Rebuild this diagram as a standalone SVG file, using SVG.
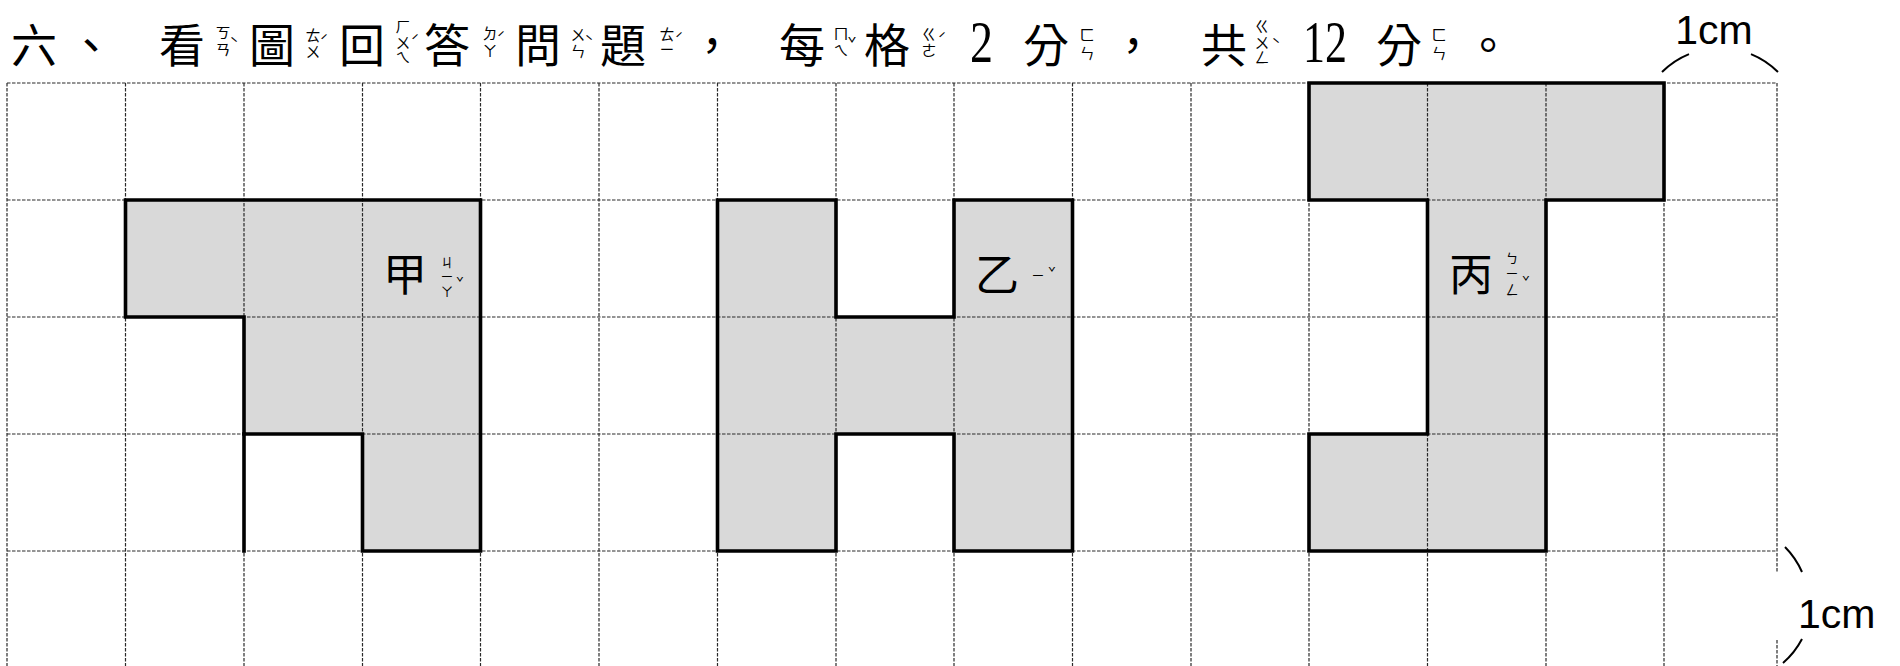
<svg xmlns="http://www.w3.org/2000/svg" width="1900" height="666" viewBox="0 0 1900 666">
<style>
.bg{fill:#ffffff}
.grid line{stroke:#2a2a2a;stroke-width:1.2;stroke-dasharray:3.5 1.5;fill:none}
.fill{fill:#d9d9d9;stroke:none}
.out{fill:none;stroke:#000;stroke-width:3.6;stroke-linejoin:miter;stroke-linecap:square}
.arc{fill:none;stroke:#000;stroke-width:2}
.cjk{font-family:"Noto Sans CJK TC","Noto Sans CJK SC",sans-serif;fill:#000}
.t{font-size:46px;text-anchor:middle}
.lb{font-size:44px;text-anchor:middle}
.bp{font-size:15px;text-anchor:middle;dominant-baseline:central}
.bs{font-size:13px;text-anchor:middle;dominant-baseline:central}
.num{font-family:"Liberation Serif",serif;font-size:60px;fill:#000}
.cm{font-family:"Liberation Sans",Arial,sans-serif;font-size:41px;fill:#000}
</style>
<rect class="bg" x="0" y="0" width="1900" height="666"/>

<g id="shape-jia-fill">
<path class="fill" d="M125.5,200 H480.5 V551 H362.5 V434 H244 V317 H125.5 Z"/>
</g>
<g id="shape-yi-fill">
<path class="fill" d="M717.5,200 H836 V317 H954 V200 H1072.5 V551 H954 V434 H836 V551 H717.5 Z"/>
</g>
<g id="shape-bing-fill">
<path class="fill" d="M1309,83 H1664 V200 H1546 V551 H1309 V434 H1427.5 V200 H1309 Z"/>
</g>

<g id="grid" class="grid">
<line x1="7" y1="83" x2="7" y2="666"/>
<line x1="125.5" y1="83" x2="125.5" y2="666"/>
<line x1="244" y1="83" x2="244" y2="666"/>
<line x1="362.5" y1="83" x2="362.5" y2="666"/>
<line x1="480.5" y1="83" x2="480.5" y2="666"/>
<line x1="599" y1="83" x2="599" y2="666"/>
<line x1="717.5" y1="83" x2="717.5" y2="666"/>
<line x1="836" y1="83" x2="836" y2="666"/>
<line x1="954" y1="83" x2="954" y2="666"/>
<line x1="1072.5" y1="83" x2="1072.5" y2="666"/>
<line x1="1191" y1="83" x2="1191" y2="666"/>
<line x1="1309" y1="83" x2="1309" y2="666"/>
<line x1="1427.5" y1="83" x2="1427.5" y2="666"/>
<line x1="1546" y1="83" x2="1546" y2="666"/>
<line x1="1664" y1="83" x2="1664" y2="666"/>
<line x1="1777" y1="83" x2="1777" y2="572"/>
<line x1="1777" y1="640" x2="1777" y2="666"/>
<line x1="7" y1="83" x2="1777" y2="83"/>
<line x1="7" y1="200" x2="1777" y2="200"/>
<line x1="7" y1="317" x2="1777" y2="317"/>
<line x1="7" y1="434" x2="1777" y2="434"/>
<line x1="7" y1="551" x2="1777" y2="551"/>
</g>

<g id="jia">
<path class="out" d="M125.5,200 H480.5 V551 H362.5 V434 H244 V317 H125.5 Z"/>
<line class="out" x1="244" y1="434" x2="244" y2="551"/>
<text class="cjk lb" x="405" y="291">甲</text>
<text class="cjk bs"><tspan x="447" y="261">ㄐ</tspan><tspan x="447" y="275">ㄧ</tspan><tspan x="447" y="290">ㄚ</tspan><tspan x="460" y="281">ˇ</tspan></text>
</g>

<g id="yi">
<path class="out" d="M717.5,200 H836 V317 H954 V200 H1072.5 V551 H954 V434 H836 V551 H717.5 Z"/>
<text class="cjk lb" x="997" y="291">乙</text>
<text class="cjk bs"><tspan x="1038" y="274">ㄧ</tspan><tspan x="1052" y="271">ˇ</tspan></text>
</g>

<g id="bing">
<path class="out" d="M1309,83 H1664 V200 H1546 V551 H1309 V434 H1427.5 V200 H1309 Z"/>
<text class="cjk lb" x="1471" y="291">丙</text>
<text class="cjk bs"><tspan x="1512" y="257">ㄅ</tspan><tspan x="1512" y="272">ㄧ</tspan><tspan x="1512" y="288">ㄥ</tspan><tspan x="1526" y="280">ˇ</tspan></text>
</g>

<g id="title">
<text class="cjk t" x="34" y="62">六</text>
<text class="cjk t" x="91" y="62">、</text>
<text class="cjk t" x="182" y="62">看</text>
<text class="cjk bp"><tspan x="223" y="31">ㄎ</tspan><tspan x="223" y="48">ㄢ</tspan><tspan x="234" y="42">ˋ</tspan></text>
<text class="cjk t" x="272" y="62">圖</text>
<text class="cjk bp"><tspan x="313" y="34">ㄊ</tspan><tspan x="313" y="50">ㄨ</tspan><tspan x="324" y="40">ˊ</tspan></text>
<text class="cjk t" x="362" y="62">回</text>
<text class="cjk bp"><tspan x="403" y="25">ㄏ</tspan><tspan x="403" y="40.5">ㄨ</tspan><tspan x="403" y="56">ㄟ</tspan><tspan x="415" y="40">ˊ</tspan></text>
<text class="cjk t" x="447" y="62">答</text>
<text class="cjk bp"><tspan x="490" y="32">ㄉ</tspan><tspan x="490" y="48.5">ㄚ</tspan><tspan x="501" y="37">ˊ</tspan></text>
<text class="cjk t" x="538" y="62">問</text>
<text class="cjk bp"><tspan x="578" y="32.5">ㄨ</tspan><tspan x="578" y="50">ㄣ</tspan><tspan x="589" y="40">ˋ</tspan></text>
<text class="cjk t" x="623" y="62">題</text>
<text class="cjk bp"><tspan x="667" y="33">ㄊ</tspan><tspan x="667" y="48">ㄧ</tspan><tspan x="679" y="38">ˊ</tspan></text>
<text class="cjk t" x="712" y="62">，</text>
<text class="cjk t" x="802" y="62">每</text>
<text class="cjk bp"><tspan x="841" y="32">ㄇ</tspan><tspan x="841" y="48.5">ㄟ</tspan><tspan x="852" y="42">ˇ</tspan></text>
<text class="cjk t" x="887" y="62">格</text>
<text class="cjk bp"><tspan x="929" y="33">ㄍ</tspan><tspan x="929" y="49">ㄜ</tspan><tspan x="942" y="38">ˊ</tspan></text>
<text class="num" x="970" y="62" textLength="23" lengthAdjust="spacingAndGlyphs">2</text>
<text class="cjk t" x="1046" y="62">分</text>
<text class="cjk bp"><tspan x="1087" y="33">ㄈ</tspan><tspan x="1087" y="52">ㄣ</tspan></text>
<text class="cjk t" x="1133" y="62">，</text>
<text class="cjk t" x="1224" y="62">共</text>
<text class="cjk bp"><tspan x="1262" y="25">ㄍ</tspan><tspan x="1262" y="40.5">ㄨ</tspan><tspan x="1262" y="56">ㄥ</tspan><tspan x="1276" y="43">ˋ</tspan></text>
<text class="num" x="1303" y="62" textLength="44" lengthAdjust="spacingAndGlyphs">12</text>
<text class="cjk t" x="1399" y="62">分</text>
<text class="cjk bp"><tspan x="1439" y="33">ㄈ</tspan><tspan x="1439" y="52">ㄣ</tspan></text>
<text class="cjk t" x="1488" y="62">。</text>
</g>

<g id="scale-top">
<text class="cm" x="1714" y="44" text-anchor="middle">1cm</text>
<path class="arc" d="M1662,72 A82,82 0 0 1 1689,54.1"/>
<path class="arc" d="M1751,54.1 A82,82 0 0 1 1778,72"/>
</g>
<g id="scale-right">
<text class="cm" x="1798" y="628">1cm</text>
<path class="arc" d="M1785,547 A82.3,82.3 0 0 1 1802,572"/>
<path class="arc" d="M1802,639 A82.3,82.3 0 0 1 1783,663"/>
</g>
</svg>
